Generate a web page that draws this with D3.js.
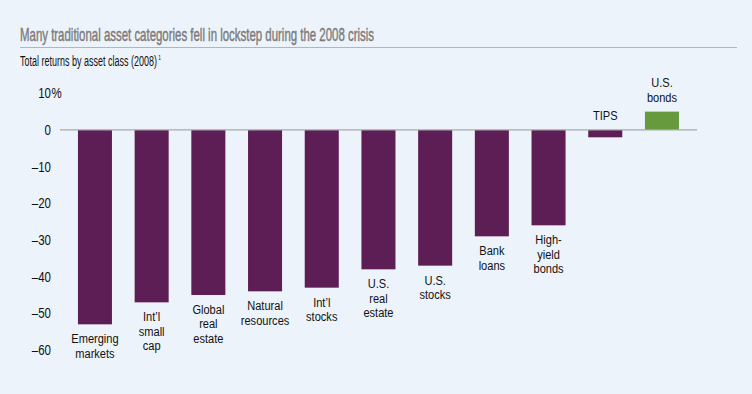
<!DOCTYPE html>
<html>
<head>
<meta charset="utf-8">
<script src="https://cdn.jsdelivr.net/npm/d3@7"></script>
<style>
  body { margin: 0; background: #edf3fa; }
  svg { display: block; font-family: "Liberation Sans", sans-serif; }
</style>
</head>
<body>
<svg id="drawing_region"></svg>
<script>
// data
const categories = [
  ["Emerging", "markets"],
  ["Int\u2019l", "small", "cap"],
  ["Global", "real", "estate"],
  ["Natural", "resources"],
  ["Int\u2019l", "stocks"],
  ["U.S.", "real", "estate"],
  ["U.S.", "stocks"],
  ["Bank", "loans"],
  ["High-", "yield", "bonds"],
  ["TIPS"],
  ["U.S.", "bonds"]
];
const returns2008 = [-53, -47, -45, -44, -43, -38, -37, -29, -26, -2, 5];
const tickValues = [10, 0, -10, -20, -30, -40, -50, -60];

const W = 752, H = 394;
const squeeze = 0.82; // condensed look
const svg = d3.select('#drawing_region').attr('width', W).attr('height', H);

svg.append('rect').attr('width', W).attr('height', H).attr('fill', '#edf3fa');

// title
svg.append('text')
  .attr('x', 20).attr('y', 41)
  .attr('fill', '#7c7c7c')
  .attr('font-size', 18.5)
  .attr('stroke', '#7c7c7c').attr('stroke-width', 0.45)
  .attr('textLength', 354).attr('lengthAdjust', 'spacingAndGlyphs')
  .text('Many traditional asset categories fell in lockstep during the 2008 crisis');

svg.append('line')
  .attr('x1', 20).attr('x2', 737)
  .attr('y1', 47.5).attr('y2', 47.5)
  .attr('stroke', '#b5b5b5').attr('stroke-width', 1);

// subtitle with footnote mark, squeezed horizontally as one text
svg.append('g')
  .attr('transform', 'translate(20,66) scale(0.6,1)')
  .append('text')
  .attr('fill', '#111')
  .attr('font-size', 15)
  .text('Total returns by asset class (2008)')
  .append('tspan')
  .attr('font-size', 8)
  .attr('dx', 2)
  .attr('dy', -6)
  .text('1');

// scales
const yscale = d3.scaleLinear().domain([-60, 10]).range([350, 93.3]);
const xscale = d3.scaleBand()
  .domain(d3.range(categories.length))
  .range([66.6, 690.3])
  .paddingInner(0.4)
  .paddingOuter(0.2);

// y axis labels
const yaxis = d3.axisLeft(yscale)
  .tickValues(tickValues)
  .tickSize(0)
  .tickPadding(0)
  .tickFormat(d => d < 0 ? '\u2013' + Math.abs(d) : d);
const yg = svg.append('g')
  .attr('transform', 'translate(51,0)')
  .call(yaxis);
yg.select('.domain').remove();
yg.selectAll('text')
  .attr('font-family', '"Liberation Sans", sans-serif')
  .attr('font-size', 14)
  .attr('fill', '#111')
  .attr('transform', `scale(${squeeze},1)`);
// percent sign hangs to the right of the top tick
yg.append('text')
  .attr('x', 0.5).attr('y', yscale(10)).attr('dy', '0.32em')
  .attr('font-size', 14).attr('fill', '#111')
  .attr('transform', `scale(${squeeze},1)`)
  .attr('text-anchor', 'start')
  .text('%');

// bars
svg.selectAll('rect.bar')
  .data(returns2008)
  .join('rect')
  .attr('class', 'bar')
  .attr('x', (d, i) => xscale(i))
  .attr('width', xscale.bandwidth())
  .attr('y', d => yscale(Math.max(0, d)))
  .attr('height', d => Math.abs(yscale(d) - yscale(0)))
  .attr('fill', d => d > 0 ? '#669a3c' : '#5d1d55');

// zero line
svg.append('line')
  .attr('x1', 60).attr('x2', 697)
  .attr('y1', yscale(0)).attr('y2', yscale(0))
  .attr('stroke', '#a9a9a9').attr('stroke-width', 1.2);

// category labels
const lineH = 14.5;
svg.selectAll('g.cat')
  .data(categories)
  .join('g')
  .attr('class', 'cat')
  .attr('transform', (d, i) => `translate(${xscale(i) + xscale.bandwidth() / 2},0) scale(${squeeze},1)`)
  .each(function(lines, i) {
    const v = returns2008[i];
    let y0;
    if (i === 9) {
      y0 = yscale(0) - 10;
    } else if (v < 0) {
      y0 = yscale(v) + 19;
    } else {
      y0 = yscale(v) - 10 - (lines.length - 1) * lineH;
    }
    d3.select(this).append('text')
      .attr('text-anchor', 'middle')
      .attr('font-size', 13.5)
      .attr('fill', '#111')
      .selectAll('tspan')
      .data(lines)
      .join('tspan')
      .attr('x', 0)
      .attr('y', (l, k) => y0 + k * lineH)
      .text(l => l);
  });
</script>
</body>
</html>
